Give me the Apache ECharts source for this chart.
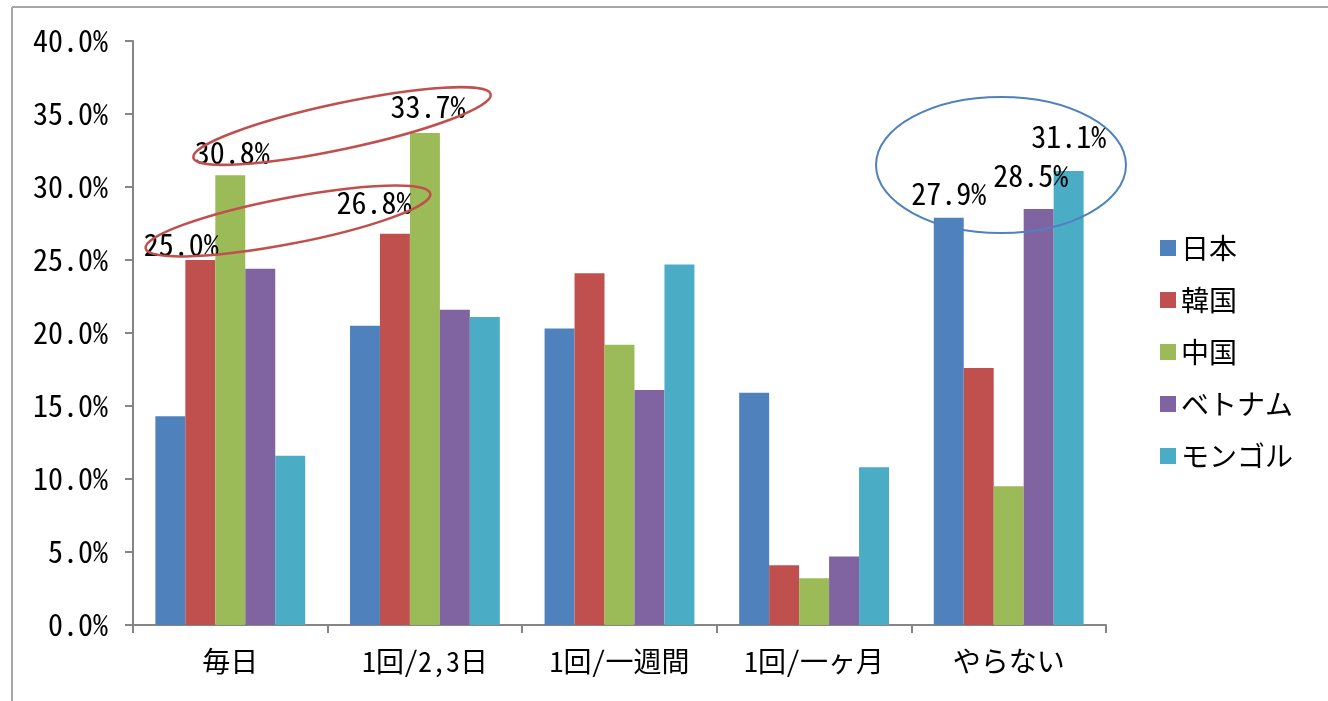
<!DOCTYPE html>
<html>
<head>
<meta charset="utf-8">
<script src="https://cdn.jsdelivr.net/npm/echarts@6/dist/echarts.min.js"></script>
<style>
  html, body { margin: 0; padding: 0; background: #fff; }
  #chart { width: 1328px; height: 701px; }
</style>
</head>
<body>
<div id="chart"></div>
<script>
const categories = ['毎日', '1回/2,3日', '1回/一週間', '1回/一ヶ月', 'やらない'];
const countries = ['日本', '韓国', '中国', 'ベトナム', 'モンゴル'];

const japan   = [14.3, 20.5, 20.3, 15.9, 27.9];
const korea   = [25.0, 26.8, 24.1, 4.1, 17.6];
const china   = [30.8, 33.7, 19.2, 3.2, 9.5];
const vietnam = [24.4, 21.6, 16.1, 4.7, 28.5];
const mongol  = [11.6, 21.1, 24.7, 10.8, 31.1];

// which bars carry a value label: [series index, category index]
const labelled = [[1, 0], [2, 0], [1, 1], [2, 1], [0, 4], [3, 4], [4, 4]];

const seriesValues = [japan, korea, china, vietnam, mongol];
const colors = ['#4F81BD', '#C0504D', '#9BBB59', '#8064A2', '#4BACC6'];
const FONT = "'Noto Sans Mono CJK JP', 'Noto Sans CJK JP', sans-serif";

// hand placed label nudges, like in the original sheet
const labelOffset = {
    '1-0': [-19, 5],
    '2-0': [2, -3],
    '1-1': [-21, -11],
    '2-1': [3, -6],
    '0-4': [0, -4],
    '3-4': [-8, -13],
    '4-4': [0, -14]
};

var dom = document.getElementById('chart');
var myChart = echarts.init(dom, null, { renderer: 'canvas' });

const series = countries.map(function (name, si) {
    return {
        name: name,
        type: 'bar',
        barGap: 0,
        barCategoryGap: '23%',
        itemStyle: { color: colors[si] },
        data: seriesValues[si].map(function (v, ci) {
            const show = labelled.some(function (p) { return p[0] === si && p[1] === ci; });
            const item = { value: v };
            if (show) {
                item.label = {
                    show: true,
                    position: 'top',
                    offset: labelOffset[si + '-' + ci] || [0, 0],
                    formatter: function (p) { return p.value.toFixed(1) + '%'; },
                    fontFamily: FONT,
                    fontSize: 30,
                    color: '#000'
                };
            }
            return item;
        })
    };
});

const option = {
    animation: false,
    color: colors,
    textStyle: { fontFamily: FONT },
    grid: { left: 133, right: 222, top: 41, bottom: 76 },
    legend: {
        orient: 'vertical',
        left: 1155,
        top: 228,
        itemWidth: 16,
        itemHeight: 16,
        itemGap: 22,
        icon: 'rect',
        textStyle: {
            fontFamily: FONT,
            fontSize: 28,
            lineHeight: 30,
            color: '#000',
            padding: [0, 0, 0, 0]
        },
        data: countries
    },
    xAxis: {
        type: 'category',
        data: categories,
        axisLine: { lineStyle: { color: '#868686', width: 2 } },
        axisTick: { show: true, length: 8, lineStyle: { color: '#868686', width: 2 } },
        axisLabel: { fontFamily: FONT, fontSize: 28, color: '#000', margin: 22 }
    },
    yAxis: {
        type: 'value',
        min: 0,
        max: 40,
        interval: 5,
        splitLine: { show: false },
        axisLine: { show: true, lineStyle: { color: '#868686', width: 2 } },
        axisTick: { show: true, length: 8, lineStyle: { color: '#868686', width: 2 } },
        axisLabel: {
            fontFamily: FONT,
            fontSize: 30,
            color: '#000',
            margin: 25,
            formatter: function (v) { return v.toFixed(1) + '%'; }
        }
    },
    graphic: [
        // outer frame (top and left edges only are visible)
        { type: 'line', shape: { x1: 12, y1: 7, x2: 1330, y2: 7 }, style: { stroke: '#a6a6a6', lineWidth: 2 } },
        { type: 'line', shape: { x1: 12, y1: 7, x2: 12, y2: 705 }, style: { stroke: '#a6a6a6', lineWidth: 2 } },
        // annotation ellipses
        { type: 'ellipse', x: 288, y: 221, rotation: 0.19, z: 100,
          shape: { cx: 0, cy: 0, rx: 145, ry: 23 },
          style: { fill: 'none', stroke: '#C0504D', lineWidth: 2.5 } },
        { type: 'ellipse', x: 342, y: 126, rotation: 0.21, z: 100,
          shape: { cx: 0, cy: 0, rx: 152, ry: 23 },
          style: { fill: 'none', stroke: '#C0504D', lineWidth: 2.5 } },
        { type: 'ellipse', x: 1001, y: 165, z: 100,
          shape: { cx: 0, cy: 0, rx: 125, ry: 68 },
          style: { fill: 'none', stroke: '#4F81BD', lineWidth: 2 } }
    ],
    series: series
};

myChart.setOption(option);
window.addEventListener('resize', myChart.resize);
</script>
</body>
</html>
